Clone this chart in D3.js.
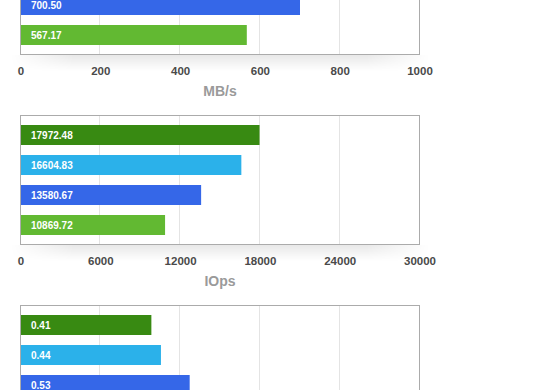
<!DOCTYPE html>
<html>
<head>
<meta charset="utf-8">
<script src="https://cdn.jsdelivr.net/npm/d3@7"></script>
<style>
  body { margin: 0; background: #fff; }
  svg { display: block; font-family: "Liberation Sans", Arial, Helvetica, sans-serif; }
</style>
</head>
<body>
<div id="chart"></div>
<script>
// series order, top to bottom inside each panel
var series = ["s1", "s2", "s3", "s4"];
var colors = ["#388a12", "#2bb1ea", "#3567e8", "#62b932"];

// panel 1 (top, partly scrolled off) - MB/s
var mbValues = [null, null, 700.50, 567.17];
var mbTicks = [0, 200, 400, 600, 800, 1000];

// panel 2 - IOps
var iopsValues = [17972.48, 16604.83, 13580.67, 10869.72];
var iopsTicks = [0, 6000, 12000, 18000, 24000, 30000];

// panel 3 (bottom, partly off) - axis labels are below the window
var latValues = [0.41, 0.44, 0.53, null];
var latTicks = [0, 0.25, 0.5, 0.75, 1, 1.25];

var panels = [
  { values: mbValues, ticks: mbTicks, title: "MB/s", fmt: d3.format(".2f"), top: -75 },
  { values: iopsValues, ticks: iopsTicks, title: "IOps", fmt: d3.format(".2f"), top: 115 },
  { values: latValues, ticks: latTicks, title: null, fmt: d3.format(".2f"), top: 305 }
];

var width = 560, height = 390;
var left = 20.5, right = 419.5, boxH = 129;

var svg = d3.select("#chart").append("svg")
    .attr("width", width)
    .attr("height", height);

var defs = svg.append("defs");
var grad = defs.append("linearGradient")
    .attr("id", "shadow")
    .attr("x1", 0).attr("y1", 0).attr("x2", 0).attr("y2", 1);
grad.append("stop").attr("offset", "0%").attr("stop-color", "#000").attr("stop-opacity", 0.09);
grad.append("stop").attr("offset", "100%").attr("stop-color", "#000").attr("stop-opacity", 0);

var hgrad = defs.append("linearGradient")
    .attr("id", "fadeX")
    .attr("x1", 0).attr("y1", 0).attr("x2", 1).attr("y2", 0);
hgrad.append("stop").attr("offset", "0%").attr("stop-color", "#fff").attr("stop-opacity", 0);
hgrad.append("stop").attr("offset", "15%").attr("stop-color", "#fff").attr("stop-opacity", 1);
hgrad.append("stop").attr("offset", "85%").attr("stop-color", "#fff").attr("stop-opacity", 1);
hgrad.append("stop").attr("offset", "100%").attr("stop-color", "#fff").attr("stop-opacity", 0);
defs.append("mask").attr("id", "fadeMask")
    .attr("maskContentUnits", "objectBoundingBox")
  .append("rect")
    .attr("width", 1).attr("height", 1)
    .attr("fill", "url(#fadeX)");

panels.forEach(function(p) {
  var maxV = p.ticks[p.ticks.length - 1];
  var x = d3.scaleLinear().domain([0, maxV]).range([left, right]);
  var y = d3.scaleBand().domain(series)
      .range([p.top, p.top + 130])
      .paddingInner(1 / 3)
      .paddingOuter(1 / 3);
  var bottom = p.top + boxH + 0.5;

  var g = svg.append("g");

  // soft shadow under the plot box
  g.append("rect")
      .attr("x", left - 10)
      .attr("y", bottom + 0.5)
      .attr("width", right - left + 20)
      .attr("height", 16)
      .attr("fill", "url(#shadow)")
      .attr("mask", "url(#fadeMask)");

  g.append("rect")
      .attr("x", left).attr("y", p.top + 0.5)
      .attr("width", right - left).attr("height", boxH)
      .attr("fill", "#fff");

  // vertical grid lines
  g.selectAll(".grid")
      .data(p.ticks.slice(1, -1))
      .enter().append("line")
      .attr("x1", function(d) { return Math.round(x(d)) - 0.5; })
      .attr("x2", function(d) { return Math.round(x(d)) - 0.5; })
      .attr("y1", p.top + 0.5)
      .attr("y2", bottom)
      .attr("stroke", "#e4e4e4")
      .attr("stroke-width", 1);

  var rows = series.map(function(s, i) { return { s: s, v: p.values[i], c: colors[i] }; })
      .filter(function(d) { return d.v != null; });

  g.selectAll(".bar")
      .data(rows)
      .enter().append("rect")
      .attr("x", x(0))
      .attr("y", function(d) { return y(d.s); })
      .attr("width", function(d) { return x(d.v) - x(0); })
      .attr("height", y.bandwidth())
      .attr("fill", function(d) { return d.c; });

  g.selectAll(".lbl")
      .data(rows)
      .enter().append("text")
      .attr("x", 31)
      .attr("y", function(d) { return y(d.s) + y.bandwidth() / 2 + 3.6; })
      .attr("fill", "#fff")
      .attr("font-size", "10px")
      .attr("font-weight", "bold")
      .text(function(d) { return p.fmt(d.v); });

  // plot border
  g.append("rect")
      .attr("x", left).attr("y", p.top + 0.5)
      .attr("width", right - left).attr("height", boxH)
      .attr("fill", "none")
      .attr("stroke", "#ababab")
      .attr("stroke-width", 1);

  // axis labels only where they fall inside the window
  if (bottom + 12 < height) {
    var axis = g.append("g")
        .attr("transform", "translate(0," + bottom + ")")
        .call(d3.axisBottom(x).tickValues(p.ticks).tickSize(0).tickPadding(12)
          .tickFormat(function(d) { return d3.format("")(d); }));
    axis.select(".domain").remove();
    axis.selectAll("text")
        .attr("fill", "#4a4a4a")
        .attr("font-size", "11.5px")
        .attr("font-weight", "bold")
        .attr("font-family", "Liberation Sans, Arial, sans-serif");
  }

  if (p.title) {
    g.append("text")
        .attr("x", (left + right) / 2)
        .attr("y", bottom + 41)
        .attr("text-anchor", "middle")
        .attr("fill", "#9a9a9a")
        .attr("font-size", "14px")
        .attr("font-weight", "bold")
        .text(p.title);
  }
});
</script>
</body>
</html>
